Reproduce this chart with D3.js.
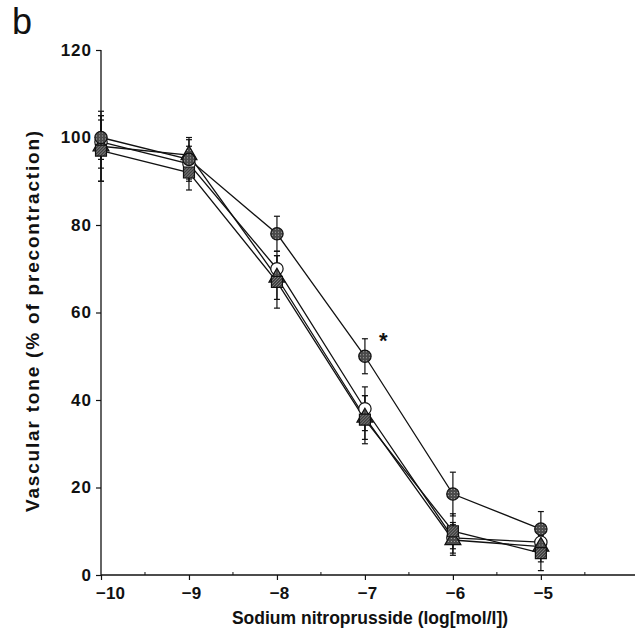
<!DOCTYPE html>
<html>
<head>
<meta charset="utf-8">
<script src="https://cdn.jsdelivr.net/npm/d3@7"></script>
<style>
  body { margin: 0; background: #fff; }
  text { font-family: "Liberation Sans", Arial, sans-serif; fill: #111; }
</style>
</head>
<body>
<div id="chart-area"></div>
<script>
// concentrations (log mol/l)
const doses = [-10, -9, -8, -7, -6, -5];

// four groups, mean and error
const filledCircle = [100, 95, 78, 50, 18.5, 10.5];
const filledCircleErr = [5, 4.5, 4, 4, 5, 4];
const openCircle = [99, 94, 70, 38, 8.5, 7.5];
const openCircleErr = [6, 4, 4, 5, 3.5, 3];
const triangle = [98, 96, 68, 36, 8, 6.5];
const triangleErr = [8, 4, 5, 5, 3.5, 3.5];
const square = [97, 92, 67, 35.5, 10, 5];
const squareErr = [7, 4, 6, 5.5, 4, 4];

const yTicks = [0, 20, 40, 60, 80, 100, 120];
const xTicks = [-10, -9, -8, -7, -6, -5];

// drawing order: later ones sit on top
const series = [
    {name: 'open', values: openCircle, err: openCircleErr},
    {name: 'triangle', values: triangle, err: triangleErr},
    {name: 'square', values: square, err: squareErr},
    {name: 'filled', values: filledCircle, err: filledCircleErr}
];

const width = 638, height = 640;

const svg = d3.select('#chart-area')
    .append('svg')
    .attr('width', width)
    .attr('height', height);

// textures for the grey markers
const defs = svg.append('defs');
const dots = defs.append('pattern')
    .attr('id', 'dots')
    .attr('width', 3).attr('height', 3)
    .attr('patternUnits', 'userSpaceOnUse');
dots.append('rect').attr('width', 3).attr('height', 3).attr('fill', '#4a4a4a');
dots.append('rect').attr('x', 1).attr('y', 1).attr('width', 1).attr('height', 1).attr('fill', '#aaa');

const hatch = defs.append('pattern')
    .attr('id', 'hatch')
    .attr('width', 3).attr('height', 3)
    .attr('patternUnits', 'userSpaceOnUse');
hatch.append('rect').attr('width', 3).attr('height', 3).attr('fill', '#3e3e3e');
hatch.append('path').attr('d', 'M0,3 L3,0').attr('stroke', '#999').attr('stroke-width', 0.8);

const x = d3.scaleLinear()
    .domain([-10, -3.93])
    .range([101, 635]);

const y = d3.scaleLinear()
    .domain([0, 120])
    .range([575, 50]);

// axes
const yAxis = svg.append('g')
    .attr('transform', `translate(${x(-10)},0)`)
    .call(d3.axisLeft(y).tickValues(yTicks).tickSize(5).tickPadding(4).tickFormat(d3.format('d')));
yAxis.select('.domain').attr('stroke', '#111').attr('stroke-width', 1.3).attr('d', `M0,${y(0)}V${y(120)}`);
yAxis.selectAll('.tick line').attr('stroke', '#111').attr('stroke-width', 1.2);
yAxis.selectAll('.tick text')
    .style('font-family', '"Liberation Sans", Arial, sans-serif')
    .style('font-weight', 'bold')
    .style('font-size', '17px')
    .style('letter-spacing', '1px')
    .attr('fill', '#111');

const xAxis = svg.append('g')
    .attr('transform', `translate(0,${y(0)})`)
    .call(d3.axisBottom(x).tickValues(xTicks).tickSize(5).tickPadding(7)
        .tickFormat(d => '\u2212' + Math.abs(d)));
xAxis.select('.domain').attr('stroke', '#111').attr('stroke-width', 1.3).attr('d', `M${x(-10)},0H${x(-3.93)}`);
xAxis.selectAll('.tick line').attr('stroke', '#111').attr('stroke-width', 1.2);
xAxis.selectAll('.tick text')
    .style('font-family', '"Liberation Sans", Arial, sans-serif')
    .style('font-weight', 'bold')
    .style('font-size', '17px')
    .attr('fill', '#111')
    .attr('dx', d => d === -10 ? 9 : 2);

// minor ticks on x axis
svg.append('g').selectAll('line')
    .data([-9.5, -8.5, -7.5, -6.5, -5.5, -4.5])
    .enter().append('line')
    .attr('x1', d => x(d)).attr('x2', d => x(d))
    .attr('y1', y(0)).attr('y2', y(0) - 3)
    .attr('stroke', '#111').attr('stroke-width', 1);

// axis titles
svg.append('text')
    .attr('transform', `translate(39,${(y(0) + y(120)) / 2 + 8}) rotate(-90)`)
    .attr('text-anchor', 'middle')
    .style('font-weight', 'bold')
    .style('font-size', '19px')
    .style('letter-spacing', '1.8px')
    .text('Vascular tone (% of precontraction)');

svg.append('text')
    .attr('x', 370)
    .attr('y', 624)
    .attr('text-anchor', 'middle')
    .style('font-weight', 'bold')
    .style('font-size', '17.5px')
    .text('Sodium nitroprusside (log[mol/l])');

svg.append('text')
    .attr('x', 12)
    .attr('y', 34)
    .style('font-size', '36px')
    .text('b');

// lines
const line = d3.line()
    .x((d, i) => x(doses[i]))
    .y(d => y(d));

svg.append('g').selectAll('path')
    .data(series)
    .enter().append('path')
    .attr('d', d => line(d.values))
    .attr('fill', 'none')
    .attr('stroke', '#111')
    .attr('stroke-width', 1.3);

// error bars
const bars = [];
series.forEach(s => s.values.forEach((v, i) => bars.push({dose: doses[i], v: v, e: s.err[i]})));

const eb = svg.append('g').attr('stroke', '#111').attr('stroke-width', 1.2);
eb.selectAll('.stem')
    .data(bars)
    .enter().append('line')
    .attr('x1', d => x(d.dose)).attr('x2', d => x(d.dose))
    .attr('y1', d => y(d.v - d.e)).attr('y2', d => y(d.v + d.e));
eb.selectAll('.cap-top')
    .data(bars)
    .enter().append('line')
    .attr('x1', d => x(d.dose) - 3).attr('x2', d => x(d.dose) + 3)
    .attr('y1', d => y(d.v + d.e)).attr('y2', d => y(d.v + d.e));
eb.selectAll('.cap-bot')
    .data(bars)
    .enter().append('line')
    .attr('x1', d => x(d.dose) - 3).attr('x2', d => x(d.dose) + 3)
    .attr('y1', d => y(d.v - d.e)).attr('y2', d => y(d.v - d.e));

// markers
const marks = svg.append('g');
const symbols = {
    square: {type: d3.symbolSquare, size: 120, fill: 'url(#hatch)'},
    triangle: {type: d3.symbolTriangle, size: 110, fill: 'url(#dots)'},
    open: {type: d3.symbolCircle, size: 120, fill: '#fff'},
    filled: {type: d3.symbolCircle, size: 120, fill: 'url(#dots)'}
};
series.forEach(s => {
    const sym = symbols[s.name];
    marks.selectAll('.m-' + s.name)
        .data(s.values)
        .enter().append('path')
        .attr('transform', (d, i) => `translate(${x(doses[i])},${y(d)})`)
        .attr('d', d3.symbol().type(sym.type).size(sym.size))
        .attr('fill', sym.fill)
        .attr('stroke', '#111')
        .attr('stroke-width', 1.2);
});

// significance mark
svg.append('text')
    .attr('x', x(-7) + 14)
    .attr('y', y(filledCircle[3]) - 8)
    .style('font-weight', 'bold')
    .style('font-size', '22px')
    .text('*');
</script>
</body>
</html>
